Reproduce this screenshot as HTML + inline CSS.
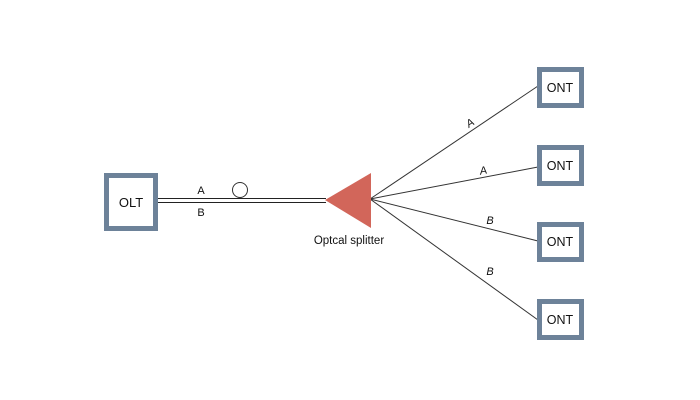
<!DOCTYPE html>
<html><head><style>body{margin:0;background:#fff}svg{display:block}text{font-family:"Liberation Sans",sans-serif;fill:#111}</style></head>
<body><svg width="700" height="400" viewBox="0 0 700 400">
<rect x="106.5" y="175.5" width="49" height="53" fill="#fff" stroke="#6d8299" stroke-width="5"/>
<text x="131" y="207" font-size="13" text-anchor="middle">OLT</text>
<line x1="158" y1="198.5" x2="326" y2="198.5" stroke="#222" stroke-width="1"/>
<line x1="158" y1="202.5" x2="326" y2="202.5" stroke="#222" stroke-width="1"/>
<circle cx="240" cy="190" r="7.5" fill="#fff" stroke="#333" stroke-width="1"/>
<text x="201" y="194" font-size="11" text-anchor="middle">A</text>
<text x="201" y="216" font-size="11" text-anchor="middle">B</text>
<g stroke="#333" stroke-width="1">
<line x1="370" y1="199" x2="538" y2="86"/>
<line x1="370" y1="199" x2="538" y2="167"/>
<line x1="370" y1="199" x2="538" y2="241"/>
<line x1="370" y1="199" x2="538" y2="320"/>
</g>
<polygon points="325,200 371,173 371,228" fill="#d2665a"/>
<text x="349" y="244" font-size="11.5" text-anchor="middle">Optcal splitter</text>
<g font-size="11" font-style="italic" text-anchor="middle">
<text x="472" y="126" transform="rotate(-34 472 126)">A</text>
<text x="484" y="174" transform="rotate(-11 484 174)">A</text>
<text x="490" y="224">B</text>
<text x="490" y="275">B</text>
</g>
<g fill="#fff" stroke="#6d8299" stroke-width="5">
<rect x="539.5" y="69.5" width="42" height="36"/>
<rect x="539.5" y="147.5" width="42" height="36"/>
<rect x="539.5" y="224.5" width="42" height="35"/>
<rect x="539.5" y="301.5" width="42" height="36"/>
</g>
<g font-size="12.5" text-anchor="middle">
<text x="560" y="92">ONT</text>
<text x="560" y="170">ONT</text>
<text x="560" y="246">ONT</text>
<text x="560" y="324">ONT</text>
</g>
</svg></body></html>
